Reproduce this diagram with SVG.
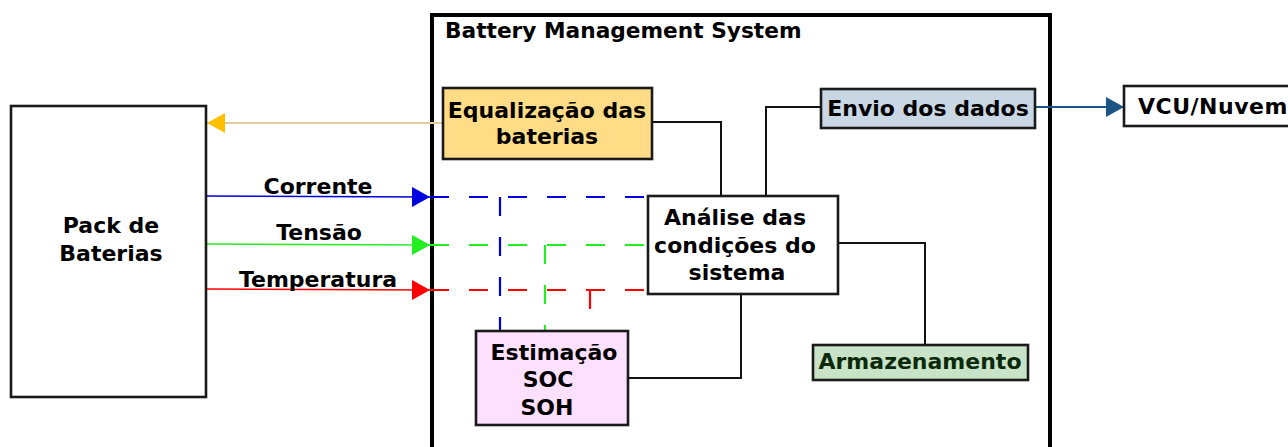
<svg xmlns="http://www.w3.org/2000/svg" width="1288" height="447" viewBox="0 0 1288 447">
<defs>
<style>
text{font-family:"DejaVu Sans","Verdana",sans-serif;font-weight:bold;font-size:22px;fill:#000;text-anchor:middle}
.box{stroke:#1a1a1a;stroke-width:2.6}
.wire{fill:none;stroke:#111;stroke-width:2}
.dash{fill:none;stroke-width:2.2;stroke-dasharray:19 20}
</style>
<marker id="aY" markerUnits="userSpaceOnUse" markerWidth="18" markerHeight="20" refX="18" refY="10" orient="auto"><path d="M0,0 L18,10 L0,20 z" fill="#ffc000"/></marker>
<marker id="aB" markerUnits="userSpaceOnUse" markerWidth="18" markerHeight="20" refX="18" refY="10" orient="auto"><path d="M0,0 L18,10 L0,20 z" fill="#0000e0"/></marker>
<marker id="aG" markerUnits="userSpaceOnUse" markerWidth="18" markerHeight="20" refX="18" refY="10" orient="auto"><path d="M0,0 L18,10 L0,20 z" fill="#22ee22"/></marker>
<marker id="aR" markerUnits="userSpaceOnUse" markerWidth="18" markerHeight="20" refX="18" refY="10" orient="auto"><path d="M0,0 L18,10 L0,20 z" fill="#ff0000"/></marker>
<marker id="aN" markerUnits="userSpaceOnUse" markerWidth="18" markerHeight="20" refX="18" refY="10" orient="auto"><path d="M0,0 L18,10 L0,20 z" fill="#1a5586"/></marker>
</defs>
<rect width="1288" height="447" fill="#fff"/>

<g id="bms">
<rect x="432" y="15" width="618" height="450" fill="none" stroke="#000" stroke-width="4"/>
<text x="445" y="38" style="text-anchor:start;font-size:21.7px">Battery Management System</text>
</g>

<g id="connectors">
<line x1="443" y1="123" x2="207" y2="123" stroke="#e0cf9a" stroke-width="1.8" marker-end="url(#aY)"/>
<line x1="206" y1="196" x2="430" y2="197" stroke="#0000e0" stroke-width="1.5" marker-end="url(#aB)"/>
<line x1="206" y1="244" x2="430" y2="245" stroke="#22ee22" stroke-width="1.5" marker-end="url(#aG)"/>
<line x1="206" y1="289" x2="430" y2="290" stroke="#ff0000" stroke-width="1.5" marker-end="url(#aR)"/>
<line class="dash" x1="430" y1="197" x2="648" y2="197" stroke="#0000e0"/>
<line class="dash" x1="430" y1="245" x2="648" y2="245" stroke="#22ee22"/>
<line class="dash" x1="430" y1="290" x2="648" y2="290" stroke="#ff0000"/>
<line class="dash" x1="500" y1="197" x2="500" y2="331" stroke="#0000e0" style="stroke-dasharray:19 21"/>
<line class="dash" x1="545" y1="245" x2="545" y2="331" stroke="#22ee22" style="stroke-dasharray:19 21"/>
<line class="dash" x1="590" y1="290" x2="590" y2="331" stroke="#ff0000" style="stroke-dasharray:19 21"/>
<polyline class="wire" points="652,122 721,122 721,196"/>
<polyline class="wire" points="766,196 766,107 821,107"/>
<polyline class="wire" points="838,243 925,243 925,345"/>
<polyline class="wire" points="628,378 741,378 741,294"/>
<line x1="1036" y1="107" x2="1124" y2="107" stroke="#1a5586" stroke-width="2.2" marker-end="url(#aN)"/>
<text x="318" y="194">Corrente</text>
<text x="319" y="240">Tensão</text>
<text x="318" y="287">Temperatura</text>
</g>

<g id="pack">
<rect class="box" x="11" y="106" width="195" height="291" fill="#fff"/>
<text x="111" y="233">Pack de</text>
<text x="111" y="261">Baterias</text>
</g>

<g id="equalizacao">
<rect class="box" x="443" y="88" width="209" height="71" fill="#ffdc85"/>
<text x="547" y="118">Equalização das</text>
<text x="547" y="144">baterias</text>
</g>

<g id="envio">
<rect class="box" x="821" y="89" width="214" height="39" fill="#c9d7e5"/>
<text x="928" y="116">Envio dos dados</text>
</g>

<g id="vcu">
<rect class="box" x="1124" y="86" width="200" height="40" fill="#fff"/>
<text x="1138" y="114" style="text-anchor:start;letter-spacing:0.5px">VCU/Nuvem</text>
</g>

<g id="analise">
<rect class="box" x="648" y="196" width="190" height="98" fill="#fff"/>
<text x="735" y="225">Análise das</text>
<text x="735" y="253">condições do</text>
<text x="737" y="280">sistema</text>
</g>

<g id="armazenamento">
<rect class="box" x="813" y="345" width="215" height="35" fill="#c8e3c7"/>
<text x="920" y="369" style="fill:#0b2a0b">Armazenamento</text>
</g>

<g id="estimacao">
<rect class="box" x="476" y="331" width="152" height="94" fill="#fde0fd"/>
<text x="554" y="360">Estimação</text>
<text x="548" y="387">SOC</text>
<text x="547" y="415">SOH</text>
</g>
</svg>
